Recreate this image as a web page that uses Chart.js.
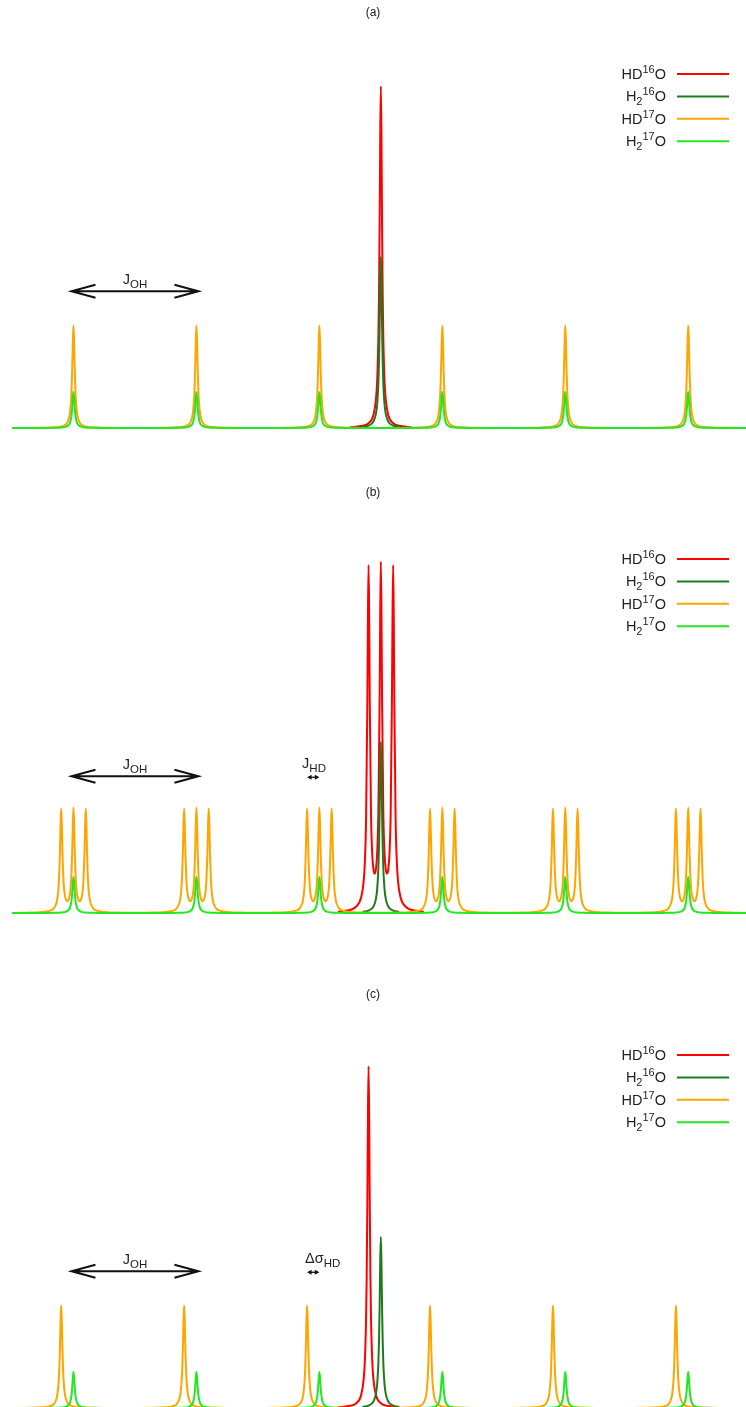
<!DOCTYPE html>
<html>
<head>
<meta charset="utf-8">
<script src="https://cdn.jsdelivr.net/npm/chart.js@4.4.1/dist/chart.umd.min.js"></script>
<style>
  html, body { margin: 0; padding: 0; background: #fff; overflow: hidden; }
  body { width: 746px; height: 1407px; position: relative; }
  canvas { position: absolute; left: 0; }
</style>
</head>
<body>
<canvas id="chartA" width="746" height="480" style="top:0px"></canvas>
<canvas id="chartB" width="746" height="500" style="top:480px"></canvas>
<canvas id="chartC" width="746" height="429" style="top:980px"></canvas>
<script>
// frequency axis (arbitrary units, J_OH = 100)
const xMin = -300;
const xMax = 297;
const peaksH217O = [-250, -150, -50, 50, 150, 250];
const peaksHD17OShifted = [-260, -160, -60, 40, 140, 240];
const peakH216O = [0];
const peakHD16O = [0];
const peakHD16OShifted = [-10];
const jHD = 10;

// peak heights (relative to the HD16O line)
const heightHD16O = 1.0;
const heightH216O = 0.5;
const heightHD17O = 0.3;
const heightH217O = 0.105;

// line shapes: offset from line centre -> fraction of peak height
const singletOffsets = [0, 0.5, 1, 1.5, 2, 3, 4, 6, 10, 15, 25, 40];
const singletShape = [1, 0.852, 0.59, 0.39, 0.265, 0.138, 0.083, 0.038, 0.014, 0.0064, 0.0023, 0.0009];
const tripletOffsets = [0, 0.5, 1, 2, 3, 4, 5, 6, 7, 8, 9, 9.5, 10, 10.5, 11, 12, 13, 14, 16, 20, 30, 35, 40];
const tripletShape = [1.028, 0.881, 0.619, 0.297, 0.175, 0.128, 0.115, 0.127, 0.172, 0.291, 0.612, 0.871, 1.018, 0.868, 0.605, 0.278, 0.149, 0.092, 0.046, 0.019, 0.006, 0.004, 0.003];

const panelTitles = ["(a)", "(b)", "(c)"];
const legendLabels = [
  [["HD", 0], ["16", 1], ["O", 0]],
  [["H", 0], ["2", -1], ["16", 1], ["O", 0]],
  [["HD", 0], ["17", 1], ["O", 0]],
  [["H", 0], ["2", -1], ["17", 1], ["O", 0]]
];
const colors = ["#ff0000", "#1f7a1f", "#ffa500", "#22e822"];

function mirror(offsets, shape) {
  const o = [], s = [];
  for (let i = offsets.length - 1; i > 0; i--) { o.push(-offsets[i]); s.push(shape[i]); }
  offsets.forEach((v, i) => { o.push(v); s.push(shape[i]); });
  return { o, s };
}
const singlet = mirror(singletOffsets, singletShape);
const triplet = mirror(tripletOffsets, tripletShape);

function placeShape(shape, centres, height, reach, fullWidth) {
  const pts = [];
  if (fullWidth) pts.push({ x: xMin, y: 0 });
  centres.forEach((c) => {
    shape.o.forEach((o, i) => {
      if (Math.abs(o) <= reach) pts.push({ x: c + o, y: shape.s[i] * height });
    });
  });
  if (fullWidth) pts.push({ x: xMax, y: 0 });
  return pts;
}

function drawParts(ctx, parts, x, y, align, big, small) {
  // parts: [text, 0 normal | 1 superscript | -1 subscript]
  const fontOf = (p) => (p[1] === 0 ? big : small) + "px 'Liberation Sans', Arial, sans-serif";
  let total = 0;
  parts.forEach((p) => { ctx.font = fontOf(p); total += ctx.measureText(p[0]).width; });
  let cx = align === "right" ? x - total : align === "center" ? x - total / 2 : x;
  ctx.textAlign = "left";
  ctx.textBaseline = "alphabetic";
  parts.forEach((p) => {
    ctx.font = fontOf(p);
    const dy = p[1] === 1 ? -big * 0.42 : p[1] === -1 ? big * 0.28 : 0;
    ctx.fillText(p[0], cx, y + dy);
    cx += ctx.measureText(p[0]).width;
  });
}

function arrowOpen(ctx, x0, x1, y) {
  ctx.beginPath();
  ctx.moveTo(x0, y); ctx.lineTo(x1, y);
  ctx.moveTo(x0 + 24, y - 6.5); ctx.lineTo(x0, y); ctx.lineTo(x0 + 24, y + 6.5);
  ctx.moveTo(x1 - 24, y - 6.5); ctx.lineTo(x1, y); ctx.lineTo(x1 - 24, y + 6.5);
  ctx.stroke();
}

function arrowSmall(ctx, x0, x1, y) {
  ctx.beginPath();
  ctx.moveTo(x0 + 2, y); ctx.lineTo(x1 - 2, y);
  ctx.stroke();
  ctx.beginPath();
  ctx.moveTo(x0, y); ctx.lineTo(x0 + 4.5, y - 2.5); ctx.lineTo(x0 + 4.5, y + 2.5); ctx.closePath();
  ctx.moveTo(x1, y); ctx.lineTo(x1 - 4.5, y - 2.5); ctx.lineTo(x1 - 4.5, y + 2.5); ctx.closePath();
  ctx.fill();
}

const decorations = {
  id: "decorations",
  afterDraw(chart, args, opts) {
    const ctx = chart.ctx;
    const xs = chart.scales.x, ys = chart.scales.y;
    ctx.save();
    ctx.fillStyle = "#222";
    // panel title
    ctx.font = "12px 'Liberation Sans', Arial, sans-serif";
    ctx.textAlign = "center";
    ctx.textBaseline = "middle";
    ctx.fillText(opts.title, 373, opts.titleY);
    // legend
    legendLabels.forEach((parts, i) => {
      const y = opts.legendY + i * 22.4;
      ctx.fillStyle = "#222";
      drawParts(ctx, parts, 666, y + 5, "right", 14.5, 11);
      ctx.strokeStyle = colors[i];
      ctx.lineWidth = 2;
      ctx.beginPath(); ctx.moveTo(677, y); ctx.lineTo(729, y); ctx.stroke();
    });
    // J_OH arrow
    const ay = ys.getPixelForValue(0.4);
    ctx.strokeStyle = "#111";
    ctx.fillStyle = "#111";
    ctx.lineWidth = 2;
    arrowOpen(ctx, xs.getPixelForValue(-250) - 2, xs.getPixelForValue(-150) + 2, ay);
    ctx.fillStyle = "#222";
    drawParts(ctx, [["J", 0], ["OH", -1]], xs.getPixelForValue(-200), ay - 7, "center", 14.5, 11.5);
    // small coupling / shift arrow
    if (opts.small) {
      const s0 = xs.getPixelForValue(-50 - jHD), s1 = xs.getPixelForValue(-50);
      ctx.lineWidth = 1.3;
      ctx.fillStyle = "#111";
      arrowSmall(ctx, s0, s1, ay + 1);
      ctx.fillStyle = "#222";
      drawParts(ctx, opts.small, s0 - (opts.small[0][0] === "J" ? 5 : 2), ay - 8, "left", 14.5, 11.5);
    }
    ctx.restore();
  }
};

function makeChart(id, datasets, pad, opts) {
  new Chart(document.getElementById(id), {
    type: "line",
    data: { datasets },
    options: {
      responsive: false,
      animation: false,
      events: [],
      layout: { padding: pad },
      plugins: { legend: { display: false }, tooltip: { enabled: false }, decorations: opts },
      scales: {
        x: { type: "linear", min: xMin, max: xMax, display: false },
        y: { min: 0, max: 1.1, display: false }
      },
      elements: {
        point: { radius: 0 },
        line: { borderWidth: 2, cubicInterpolationMode: "monotone", borderJoinStyle: "round", capBezierPoints: false }
      }
    },
    plugins: [decorations]
  });
}

function series(i, pts, order) {
  return { data: pts, borderColor: colors[i], fill: false, order, clip: false };
}

makeChart("chartA", [
  series(0, placeShape(singlet, peakHD16O, heightHD16O, 25, false), 4),
  series(1, placeShape(singlet, peakH216O, heightH216O, 15, false), 3),
  series(2, placeShape(singlet, peaksH217O, heightHD17O, 40, true), 2),
  series(3, placeShape(singlet, peaksH217O, heightH217O, 40, true), 1)
], { left: 12, right: 0, top: 52, bottom: 52 }, { title: panelTitles[0], titleY: 13, legendY: 74 });

makeChart("chartB", [
  series(0, placeShape(triplet, peakHD16O, heightHD16O, 35, false), 4),
  series(1, placeShape(singlet, peakH216O, heightH216O, 15, false), 3),
  series(2, placeShape(triplet, peaksH217O, heightHD17O, 40, true), 2),
  series(3, placeShape(singlet, peaksH217O, heightH217O, 40, true), 1)
], { left: 12, right: 0, top: 57, bottom: 67 },
  { title: panelTitles[1], titleY: 13, legendY: 79, small: [["J", 0], ["HD", -1]] });

makeChart("chartC", [
  series(0, placeShape(singlet, peakHD16OShifted, heightHD16O, 25, false), 4),
  series(1, placeShape(singlet, peakH216O, heightH216O, 15, false), 3),
  series(2, placeShape(singlet, peaksHD17OShifted, heightHD17O, 40, true), 2),
  series(3, placeShape(singlet, peaksH217O, heightH217O, 40, true), 1)
], { left: 12, right: 0, top: 52, bottom: 1 },
  { title: panelTitles[2], titleY: 15, legendY: 75, small: [["Δσ", 0], ["HD", -1]] });
</script>
</body>
</html>
